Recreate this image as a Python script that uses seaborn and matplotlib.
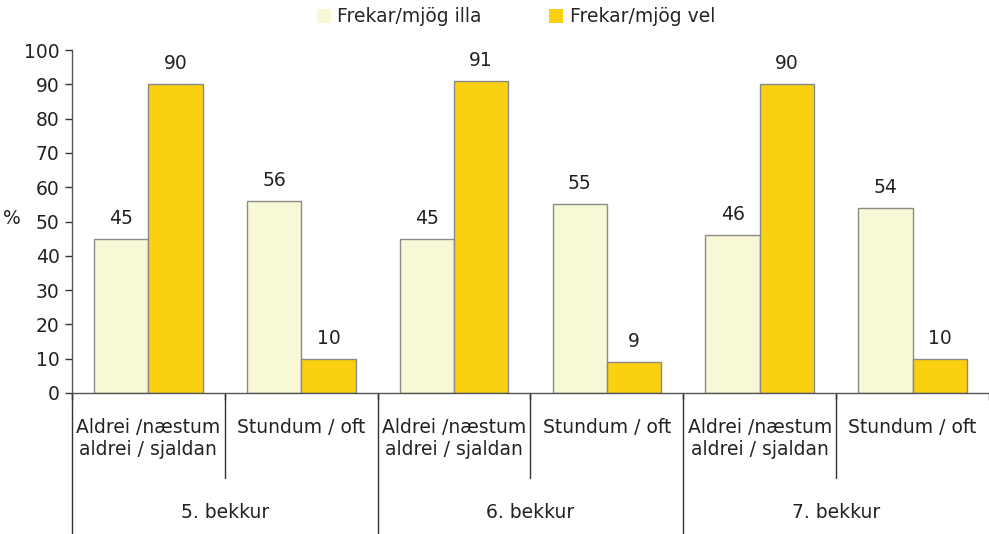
import numpy as np
import pandas as pd
import seaborn as sns
from matplotlib import pyplot as plt
from matplotlib.patches import Patch

# data
grades = ['5. bekkur', '6. bekkur', '7. bekkur']
answers = ['Aldrei /næstum\naldrei / sjaldan', 'Stundum / oft']
series = ['Frekar/mjög illa', 'Frekar/mjög vel']
illa = [45, 56, 45, 55, 46, 54]
vel = [90, 10, 91, 9, 90, 10]

colors = ['#F8F8D6', '#FAD010']
fs = 13.5

sns.set_style('white')
plt.rcParams['font.family'] = ['DejaVu Sans']

# long table, one row per bar; x key must be unique per slot
slots = [g + '|' + a for g in grades for a in answers]
df = pd.DataFrame({
    'slot': slots * 2,
    'serie': [series[0]] * 6 + [series[1]] * 6,
    'value': illa + vel,
})

fig = plt.figure(figsize=(9.89, 5.34), dpi=100)
ax = fig.add_axes([72 / 989, 141 / 534, 1 - 72 / 989, 343 / 534])

sns.barplot(data=df, x='slot', y='value', hue='serie', order=slots,
            hue_order=series, palette=colors, saturation=1, width=0.71, gap=0,
            edgecolor='#8a8a8a', linewidth=1, legend=False, ax=ax)

for c in ax.containers:
    ax.bar_label(c, padding=8, fontsize=fs, color='#222222')

ax.set_ylim(0, 100)
ax.set_xlim(-0.5, 5.5)
ax.set_yticks(range(0, 101, 10))
ax.tick_params(axis='y', labelsize=fs, length=5, width=1, color='#333333',
               left=True, labelcolor='#222222', pad=4)
ax.set_xticks(np.arange(-0.5, 6, 1))
ax.set_xticklabels([])
ax.tick_params(axis='x', length=5, width=1, color='#333333', bottom=True)
ax.set_xlabel('')
ax.set_ylabel('')
fig.text(12 / 989, 1 - 218 / 534, '%', ha='center', va='center', fontsize=fs,
         color='#222222')
for s in ['top', 'right']:
    ax.spines[s].set_visible(False)
for s in ['left', 'bottom']:
    ax.spines[s].set_color('#555555')
    ax.spines[s].set_linewidth(1)

trans = ax.get_xaxis_transform()
# category labels and separators under the axis
for i, s in enumerate(slots):
    ax.text(i, -0.074, s.split('|')[1], transform=trans, ha='center', va='top',
            fontsize=fs, color='#222222', linespacing=1.2)
for gi, g in enumerate(grades):
    ax.text(gi * 2 + 0.5, -0.347, g, transform=trans, ha='center', va='center',
            fontsize=fs, color='#222222')
    ax.plot([gi * 2 + 0.5] * 2, [0, -0.248], transform=trans, color='#333333',
            lw=1, clip_on=False)
    ax.plot([gi * 2 - 0.5] * 2, [0, -0.42], transform=trans, color='#333333',
            lw=1, clip_on=False)

handles = [Patch(facecolor=colors[i], edgecolor='none', label=series[i]) for i in range(2)]
fig.legend(handles=handles, loc='upper center', bbox_to_anchor=(516 / 989, 1.018),
           ncol=2, frameon=False, fontsize=fs, handlelength=0.75, handleheight=0.75,
           handletextpad=0.35, columnspacing=3.6)

fig.savefig('out.png', dpi=100)
